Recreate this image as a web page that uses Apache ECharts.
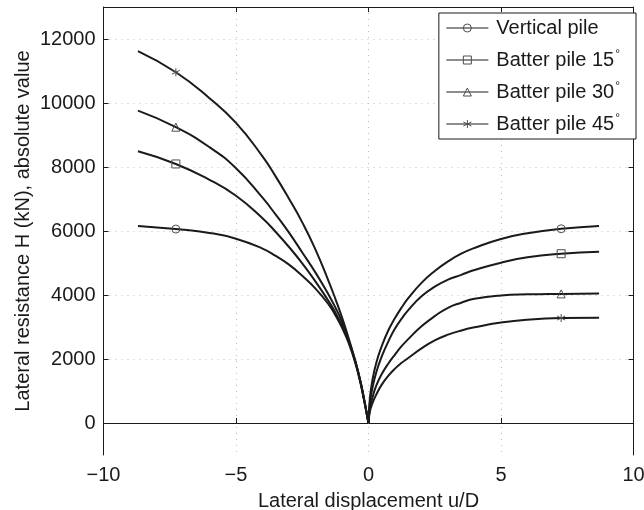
<!DOCTYPE html>
<html>
<head>
<meta charset="utf-8">
<script src="https://cdn.jsdelivr.net/npm/echarts@6/dist/echarts.min.js"></script>
<style>
  html, body { margin: 0; padding: 0; background: #fff; }
  #chart { width: 644px; height: 510px; }
</style>
</head>
<body>
<div id="chart"></div>
<script>
// sample positions (u/D)
var xRight = [0, 0.05, 0.15, 0.3, 0.5, 0.75, 1, 1.25, 1.5, 2, 2.5, 3, 3.5, 4, 5, 6, 7.27, 8.7];
var xLeft = [0, -0.05, -0.15, -0.3, -0.5, -0.75, -1, -1.25, -1.5, -2, -2.5, -3, -3.5, -4, -5, -6, -7.27, -8.7];

var verticalRight = [0, 750, 1350, 1900, 2400, 2900, 3280, 3610, 3900, 4380, 4750, 5050, 5290, 5470, 5750, 5930, 6070, 6160];
var batter15Right = [0, 600, 1100, 1600, 2080, 2550, 2950, 3260, 3530, 3960, 4260, 4480, 4630, 4780, 5010, 5180, 5290, 5350];
var batter30Right = [0, 450, 800, 1180, 1530, 1860, 2140, 2400, 2620, 3020, 3340, 3600, 3760, 3880, 3985, 4020, 4035, 4045];
var batter45Right = [0, 350, 620, 900, 1200, 1480, 1700, 1880, 2030, 2330, 2580, 2760, 2890, 2990, 3140, 3230, 3280, 3290];

var verticalLeft = [0, 215, 640, 1230, 1880, 2500, 2980, 3370, 3700, 4200, 4600, 4950, 5220, 5450, 5760, 5940, 6060, 6160];
var batter15Left = [0, 220, 660, 1280, 1920, 2560, 3050, 3450, 3800, 4420, 4990, 5500, 5970, 6400, 7100, 7600, 8095, 8490];
var batter30Left = [0, 220, 660, 1270, 1930, 2600, 3170, 3610, 4000, 4700, 5330, 5950, 6510, 7040, 7960, 8620, 9245, 9760];
var batter45Left = [0, 230, 680, 1290, 1950, 2650, 3300, 3880, 4420, 5420, 6270, 7010, 7700, 8330, 9380, 10150, 10960, 11620];

var seriesNames = ['Vertical pile', 'Batter pile 15°', 'Batter pile 30°', 'Batter pile 45°'];
var markerX = 7.27;
var xTicks = [-10, -5, 0, 5, 10];
var yTicks = [0, 2000, 4000, 6000, 8000, 10000, 12000];

var symbols = [
    'circle',
    'rect',
    'triangle',
    'path://M10 0L10 20M1.3 5L18.7 15M1.3 15L18.7 5'
];
var rightData = [verticalRight, batter15Right, batter30Right, batter45Right];
var leftData = [verticalLeft, batter15Left, batter30Left, batter45Left];

var fontName = 'Liberation Sans, Arial, sans-serif';
var ink = '#1a1a1a';

var makeHalf = function (name, xs, ys, symbol) {
    return {
        name: name,
        type: 'line',
        symbol: symbol,
        symbolSize: 8,
        showSymbol: true,
        smooth: 0.5,
        animation: false,
        data: xs.map(function (x, i) {
            if (Math.abs(x) === markerX) {
                return [x, ys[i]];
            }
            return { value: [x, ys[i]], symbol: 'none' };
        }),
        lineStyle: { color: ink, width: 2 },
        itemStyle: { color: 'transparent', borderColor: '#4d4d4d', borderWidth: 1 },
        emphasis: { disabled: true }
    };
};

var series = [];
for (var i = 0; i < seriesNames.length; i++) {
    series.push(makeHalf(seriesNames[i], xLeft, leftData[i], symbols[i]));
    series.push(makeHalf(seriesNames[i], xRight, rightData[i], symbols[i]));
}

var minusLabel = function (v) {
    return v < 0 ? '\u2212' + Math.abs(v) : String(v);
};

var chart = echarts.init(document.getElementById('chart'));
chart.setOption({
    backgroundColor: '#fff',
    animation: false,
    grid: { left: 103.5, right: 10.5, top: 7, bottom: 55, outerBoundsMode: 'none', containLabel: false },
    legend: {
        data: seriesNames,
        orient: 'vertical',
        right: 8,
        top: 13,
        backgroundColor: '#fff',
        borderColor: ink,
        borderWidth: 1,
        borderRadius: 0,
        padding: [4, 16, 4, 7],
        itemWidth: 42,
        itemHeight: 10,
        itemGap: 10,
        selectedMode: false,
        lineStyle: { width: 1 },
        itemStyle: { borderWidth: 1 },
        formatter: function (name) {
            return name.replace('°', '{d|°}');
        },
        textStyle: {
            fontFamily: fontName,
            fontSize: 20,
            lineHeight: 22,
            color: ink,
            padding: [0, 0, 0, 3],
            rich: {
                d: { fontFamily: fontName, fontSize: 12, lineHeight: 12, verticalAlign: 'top', color: ink, padding: [0, 0, 0, 1] }
            }
        }
    },
    xAxis: [{
        type: 'value',
        min: -10,
        max: 10,
        interval: 5,
        name: 'Lateral displacement u/D',
        nameLocation: 'middle',
        nameGap: 36,
        nameMoveOverlap: false,
        nameTextStyle: { fontFamily: fontName, fontSize: 20, color: ink },
        axisLine: { lineStyle: { color: ink, width: 1 } },
        axisTick: { inside: true, length: 5, lineStyle: { color: ink } },
        axisLabel: { fontFamily: fontName, fontSize: 20, color: ink, margin: 10, formatter: minusLabel },
        splitLine: { show: true, lineStyle: { color: '#bdbdbd', type: [1, 5], width: 1 } }
    }, {
        type: 'value',
        position: 'top',
        min: -10,
        max: 10,
        interval: 5,
        axisLine: { onZero: false, lineStyle: { color: ink, width: 1 } },
        axisTick: { inside: true, length: 5, lineStyle: { color: ink } },
        axisLabel: { show: false },
        splitLine: { show: false }
    }],
    yAxis: [{
        type: 'value',
        min: -1000,
        max: 13000,
        name: 'Lateral resistance H (kN), absolute value',
        nameLocation: 'middle',
        nameGap: 70,
        nameMoveOverlap: false,
        nameTextStyle: { fontFamily: fontName, fontSize: 20, color: ink },
        axisLine: { show: true, onZero: false, lineStyle: { color: ink, width: 1 } },
        axisTick: { show: true, inside: true, length: 5, customValues: yTicks, lineStyle: { color: ink } },
        axisLabel: {
            fontFamily: fontName, fontSize: 20, color: ink, margin: 8, customValues: yTicks,
            formatter: function (v) { return String(v); }
        },
        splitLine: { show: true, lineStyle: { color: '#bdbdbd', type: [1, 5], width: 1 } }
    }, {
        type: 'value',
        position: 'right',
        min: -1000,
        max: 13000,
        axisLine: { show: true, onZero: false, lineStyle: { color: ink, width: 1 } },
        axisTick: { show: true, inside: true, length: 5, customValues: yTicks, lineStyle: { color: ink } },
        axisLabel: { show: false, customValues: yTicks },
        splitLine: { show: false }
    }],
    series: series
});
</script>
</body>
</html>
